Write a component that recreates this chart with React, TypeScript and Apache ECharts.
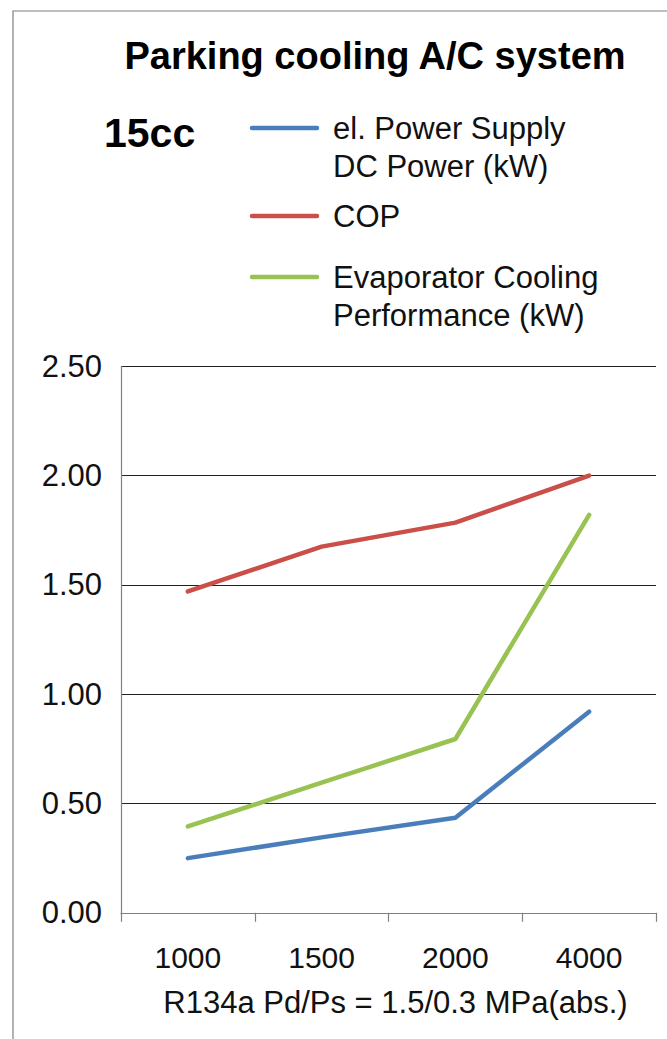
import React, { useEffect, useRef } from "react";
import * as echarts from "echarts";

const categories = ["1000", "1500", "2000", "4000"];
const powerSupply = [0.25, 0.345, 0.435, 0.92];
const cop = [1.47, 1.675, 1.785, 2.0];
const evaporator = [0.395, 0.595, 0.795, 1.82];

const seriesNames = [
  "el. Power Supply\nDC Power (kW)",
  "COP",
  "Evaporator Cooling\nPerformance (kW)",
];
const seriesColors = ["#4a7ebb", "#c94f48", "#98c352"];

const titleText = "Parking cooling A/C system";
const subtitleText = "15cc";
const xAxisName = "R134a Pd/Ps = 1.5/0.3 MPa(abs.)";

const FONT = "'Liberation Sans', Arial, Helvetica, sans-serif";

export default function App() {
  const ref = useRef<HTMLDivElement>(null);

  useEffect(() => {
    if (!ref.current) return;
    const chart = echarts.init(ref.current, undefined, { renderer: "svg" });

    const legendY = [128, 216, 277];
    const legendGraphics: any[] = [];
    seriesNames.forEach((name, i) => {
      legendGraphics.push({
        type: "line",
        shape: { x1: 252, y1: legendY[i], x2: 317, y2: legendY[i] },
        style: { stroke: seriesColors[i], lineWidth: 4.5, lineCap: "round" },
      });
      const lines = name.split("\n");
      lines.forEach((ln, j) => {
        legendGraphics.push({
          type: "text",
          x: 333,
          y: legendY[i] + j * 38.5,
          style: {
            text: ln,
            font: `31px ${FONT}`,
            fill: "#111",
            verticalAlign: "middle",
            align: "left",
          },
        });
      });
    });

    chart.setOption({
      animation: false,
      backgroundColor: "#ffffff",
      textStyle: { fontFamily: FONT },
      grid: { left: 121, right: 11, top: 366.3, bottom: 126.2, containLabel: false },
      graphic: [
        {
          type: "polyline",
          shape: { points: [[13, 1039], [13, 11], [667, 11]] },
          style: { stroke: "#7f7f7f", lineWidth: 1.2, fill: null },
        },
        {
          type: "text",
          x: 375,
          y: 56,
          style: {
            text: titleText,
            font: `bold 38px ${FONT}`,
            fill: "#000",
            align: "center",
            verticalAlign: "middle",
          },
        },
        {
          type: "text",
          x: 104,
          y: 133,
          style: {
            text: subtitleText,
            font: `bold 41px ${FONT}`,
            fill: "#000",
            align: "left",
            verticalAlign: "middle",
          },
        },
        ...legendGraphics,
      ],
      xAxis: {
        type: "category",
        data: categories,
        boundaryGap: true,
        axisLine: { show: true, lineStyle: { color: "#808080", width: 1.2 } },
        axisTick: { show: true, length: 9, lineStyle: { color: "#808080", width: 1.2 } },
        axisLabel: { color: "#111", fontSize: 30, margin: 30, fontFamily: FONT },
        splitLine: { show: false },
        name: xAxisName,
        nameLocation: "middle",
        nameGap: 74,
        nameTextStyle: {
          color: "#111",
          fontSize: 31,
          fontFamily: FONT,
          padding: [0, 0, 0, 14],
        },
      },
      yAxis: {
        type: "value",
        min: 0,
        max: 2.5,
        interval: 0.5,
        axisLine: { show: true, lineStyle: { color: "#808080", width: 1.2 } },
        axisTick: { show: false },
        axisLabel: {
          color: "#111",
          fontSize: 31,
          margin: 19,
          fontFamily: FONT,
          formatter: (v: number) => v.toFixed(2),
        },
        splitLine: { show: true, lineStyle: { color: "#222", width: 1.2 } },
      },
      series: [
        { name: seriesNames[0], data: powerSupply },
        { name: seriesNames[1], data: cop },
        { name: seriesNames[2], data: evaporator },
      ].map((s, i) => ({
        type: "line",
        name: s.name,
        data: s.data,
        showSymbol: false,
        symbol: "none",
        z: 3 + i,
        lineStyle: { color: seriesColors[i], width: 4.5, cap: "round", join: "round" },
        itemStyle: { color: seriesColors[i] },
      })),
    });

    return () => chart.dispose();
  }, []);

  return (
    <div
      ref={ref}
      style={{ position: "absolute", left: 0, top: 0, width: 667, height: 1039 }}
    />
  );
}
